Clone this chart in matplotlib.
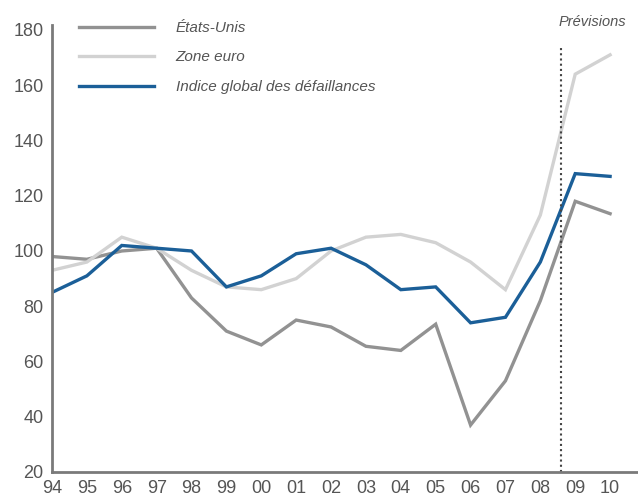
import numpy as np
from matplotlib import pyplot as plt

plt.rcParams['font.family'] = ['Liberation Sans', 'DejaVu Sans']

years = list(range(1994, 2011))
year_labels = ['94', '95', '96', '97', '98', '99', '00', '01', '02', '03',
               '04', '05', '06', '07', '08', '09', '10']
etats_unis = [98, 97, 100, 101, 83, 71, 66, 75, 72.5, 65.5, 64, 73.5, 37, 53, 82, 118, 113.5]
zone_euro = [93, 96, 105, 101, 93, 87, 86, 90, 100, 105, 106, 103, 96, 86, 113, 164, 171]
indice_global = [85, 91, 102, 101, 100, 87, 91, 99, 101, 95, 86, 87, 74, 76, 96, 128, 127]
yticks = [20, 40, 60, 80, 100, 120, 140, 160, 180]
forecast_start = 2008.6

fig = plt.figure(figsize=(6.38, 5.0), dpi=100)
ax = fig.add_axes([0.0815, 0.056, 0.9185, 0.894])

ax.plot(years, etats_unis, color='#929292', lw=2.4, label='États-Unis', solid_joinstyle='miter')
ax.plot(years, zone_euro, color='#d2d2d2', lw=2.4, label='Zone euro', solid_joinstyle='miter')
ax.plot(years, indice_global, color='#1b5f98', lw=2.4, label='Indice global des défaillances',
        solid_joinstyle='miter')

ax.axvline(forecast_start, ymin=0, ymax=0.95, color='#444444', lw=1.5, ls=(0, (1, 1.5)))
ax.text(forecast_start + 0.9, 183, 'Prévisions', style='italic', fontsize=10.5,
        color='#555555', ha='center', va='center', clip_on=False)

ax.set_xlim(1994, 2010.8)
ax.set_ylim(20, 181.8)
ax.set_xticks(years)
ax.set_xticklabels(year_labels)
ax.set_yticks(yticks)
ax.tick_params(length=0, labelsize=13, colors='#555555', pad=6)

for side in ['top', 'right']:
    ax.spines[side].set_visible(False)
for side in ['left', 'bottom']:
    ax.spines[side].set_color('#7a7a7a')
    ax.spines[side].set_linewidth(2)

leg = ax.legend(loc='upper left', bbox_to_anchor=(0.022, 1.04), frameon=False,
                handlelength=4.9, handletextpad=1.45, labelspacing=1.02,
                prop={'style': 'italic', 'size': 11})
for t in leg.get_texts():
    t.set_color('#555555')

fig.savefig('out.png', dpi=100)
